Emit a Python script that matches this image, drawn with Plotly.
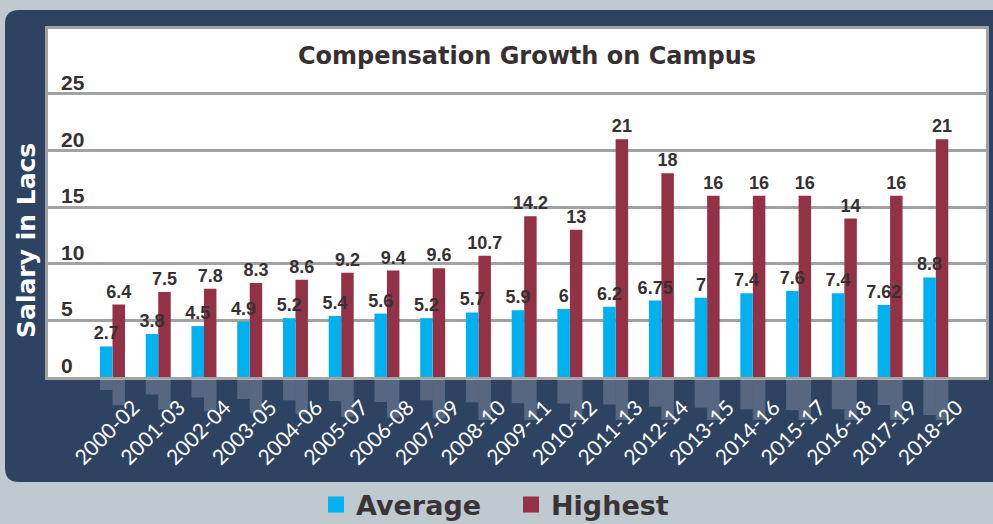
import plotly.graph_objects as go

categories = ["2000-02", "2001-03", "2002-04", "2003-05", "2004-06", "2005-07", "2006-08",
              "2007-09", "2008-10", "2009-11", "2010-12", "2011-13", "2012-14", "2013-15",
              "2014-16", "2015-17", "2016-18", "2017-19", "2018-20"]
average_values = [2.7, 3.8, 4.5, 4.9, 5.2, 5.4, 5.6, 5.2, 5.7, 5.9, 6, 6.2, 6.75, 7, 7.4, 7.6, 7.4, 6.35, 8.8]
average_labels = ["2.7", "3.8", "4.5", "4.9", "5.2", "5.4", "5.6", "5.2", "5.7", "5.9", "6", "6.2",
                  "6.75", "7", "7.4", "7.6", "7.4", "7.62", "8.8"]
highest_values = [6.4, 7.5, 7.8, 8.3, 8.6, 9.2, 9.4, 9.6, 10.7, 14.2, 13, 21, 18, 16, 16, 16, 14, 16, 21]
highest_labels = ["6.4", "7.5", "7.8", "8.3", "8.6", "9.2", "9.4", "9.6", "10.7", "14.2", "13", "21",
                  "18", "16", "16", "16", "14", "16", "21"]
y_ticks = [0, 5, 10, 15, 20, 25]
y_tick_labels = ["0", "5", "10", "15", "20", "25"]

W, H = 993, 524
CYAN = "#00b0ef"
MAROON = "#933147"
NAVY = "#2e4262"
TXT = "#363033"
GRID = "#a2a2a2"
BW = 0.273  # bar width in category units

def fx(px):
    return px / W

def fy(px):
    return 1 - px / H

fig = go.Figure()

lbl_font = dict(family="Liberation Sans", size=18, color=TXT, weight="bold")
# Highest first so that Average labels are drawn on top of the maroon bars
fig.add_trace(go.Bar(x=categories, y=highest_values, text=highest_labels, name="Highest",
                     marker=dict(color=MAROON, line=dict(width=0)), textposition="outside",
                     textfont=lbl_font, constraintext="none", cliponaxis=False,
                     offset=0, width=BW, showlegend=False))
fig.add_trace(go.Bar(x=categories, y=average_values, text=average_labels, name="Average",
                     marker=dict(color=CYAN, line=dict(width=0)), textposition="outside",
                     textfont=lbl_font, constraintext="none", cliponaxis=False,
                     offset=-BW, width=BW, showlegend=False))

# reflections below the axis
refl = dict(color="rgba(255,255,255,0.2)", line=dict(width=0))
fig.add_trace(go.Bar(x=categories, y=average_values, yaxis="y2", marker=refl,
                     offset=-BW, width=BW, showlegend=False, hoverinfo="skip"))
fig.add_trace(go.Bar(x=categories, y=highest_values, yaxis="y2", marker=refl,
                     offset=0, width=BW, showlegend=False, hoverinfo="skip"))

# legend entries
for nm, col in (("Average", CYAN), ("Highest", MAROON)):
    fig.add_trace(go.Scatter(x=[categories[0]], y=[None], mode="markers", name=nm,
                             marker=dict(symbol="square", size=16, color=col)))

fig.update_layout(
    width=W, height=H,
    margin=dict(l=0, r=0, t=0, b=0, autoexpand=False),
    paper_bgcolor="#bfc9d0",
    plot_bgcolor="rgba(0,0,0,0)",
    barmode="overlay",
    title=dict(text="Compensation Growth on Campus", x=fx(527), xanchor="center",
               y=fy(56), yanchor="middle",
               font=dict(family="DejaVu Sans", size=24, color=TXT, weight="bold")),
    xaxis=dict(type="category", categoryorder="array", categoryarray=categories,
               domain=[fx(48), fx(986)], range=[-1.41, 19.097], showgrid=False,
               showline=True, linecolor=GRID, linewidth=3, mirror=True,
               tickangle=-45, ticks="", ticklabelshift=21, ticklabelstandoff=7,
               tickfont=dict(family="Lato", size=21, color="white", weight=400),
               anchor="y", automargin=False, fixedrange=True),
    yaxis=dict(domain=[fy(377), fy(29)], range=[0, 30.74], tickvals=y_ticks,
               showticklabels=False, showgrid=True, gridcolor=GRID, gridwidth=2.5,
               showline=True, linecolor=GRID, linewidth=3, mirror=True,
               zeroline=False, ticks="", automargin=False, fixedrange=True),
    yaxis2=dict(domain=[fy(420), fy(379)], range=[10, 0], visible=False, anchor="x",
                automargin=False, fixedrange=True),
    legend=dict(orientation="h", x=fx(316), xanchor="left", y=fy(505), yanchor="middle",
                entrywidth=150, entrywidthmode="pixels",
                font=dict(family="DejaVu Sans", size=27, color="#3a3336", weight="bold"),
                bgcolor="rgba(0,0,0,0)", itemclick=False, itemdoubleclick=False),
    showlegend=True,
)

# y tick labels sitting on top of their gridlines
for v, t in zip(y_ticks, y_tick_labels):
    fig.add_annotation(text=t, xref="x domain", yref="y", x=0, y=v, xanchor="left",
                       yanchor="bottom", xshift=11, yshift=-2, showarrow=False,
                       font=dict(family="Liberation Sans", size=21, color=TXT, weight="bold"))

# dark rounded panel and white chart box
rx, ry = 14 / W, 14 / H
x0, x1, y0, y1 = fx(5), fx(1010), fy(482), fy(10)
panel_path = (f"M{x0 + rx},{y1} L{x1},{y1} L{x1},{y0} L{x0 + rx},{y0} "
              f"Q{x0},{y0} {x0},{y0 + ry} L{x0},{y1 - ry} Q{x0},{y1} {x0 + rx},{y1} Z")
fig.add_shape(type="path", path=panel_path, xref="paper", yref="paper",
              fillcolor=NAVY, line=dict(width=0), layer="below")
fig.add_shape(type="rect", xref="x domain", yref="y domain", x0=0, x1=1, y0=0, y1=1,
              fillcolor="white", line=dict(width=0), layer="below")

fig.add_annotation(text="Salary in Lacs", xref="paper", yref="paper", x=fx(27), y=fy(241),
                   textangle=-90, showarrow=False, xanchor="center", yanchor="middle",
                   font=dict(family="DejaVu Sans", size=25, color="white", weight="bold"))

fig.write_html("out.html", config={"displayModeBar": False},
               post_script="document.body.style.margin='0';")
